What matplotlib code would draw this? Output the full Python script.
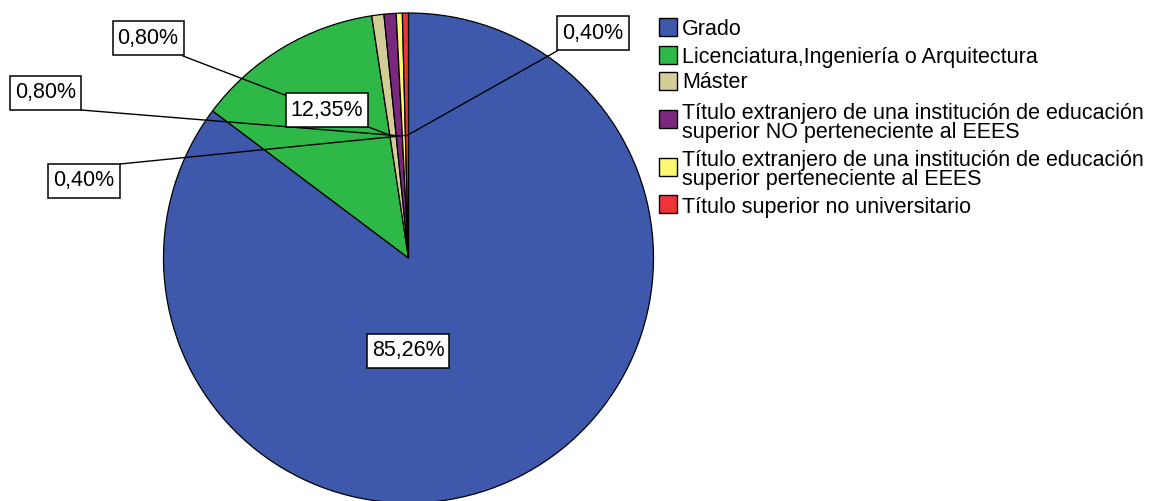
import matplotlib
matplotlib.use("Agg")
import matplotlib.pyplot as plt
from matplotlib.patches import Rectangle
import numpy as np

plt.rcParams['font.family'] = ['Liberation Sans', 'DejaVu Sans']

categories = [
    "Grado",
    "Licenciatura,Ingeniería o Arquitectura",
    "Máster",
    "Título extranjero de una institución de educación\nsuperior NO perteneciente al EEES",
    "Título extranjero de una institución de educación\nsuperior perteneciente al EEES",
    "Título superior no universitario",
]
values = [85.26, 12.35, 0.80, 0.80, 0.40, 0.40]
labels = ["85,26%", "12,35%", "0,80%", "0,80%", "0,40%", "0,40%"]
colors = ["#3E58AC", "#2EB848", "#D3CE97", "#7A287E", "#FBF873", "#EF3338"]

W, H = 1152, 501
fig = plt.figure(figsize=(W / 100, H / 100), dpi=100)
ax = fig.add_axes([0, 0, 1, 1])

def Y(y):
    return H - y

cx, cy, R = 408.5, Y(258), 245
wedges, _ = ax.pie(values, colors=colors, startangle=90, counterclock=False,
                   center=(cx, cy), radius=R, frame=True,
                   wedgeprops=dict(edgecolor='black', linewidth=0.9))
ax.set_xlim(0, W)
ax.set_ylim(0, H)
ax.set_aspect('equal')
ax.axis('off')

FS = 15.5
BOX_H = 34
PADX = 5

# label layout: text center (x, y), leader corner (x, y) or None
layout = [
    ((408, 350.5), None),
    ((327, 110), None),
    ((148, 38), (183, 56)),
    ((45.5, 92.5), (81, 110)),
    ((84, 180.5), (120, 164)),
    ((593, 33), (557, 51)),
]

texts = []
for w, lab, (tpos, corner) in zip(wedges, labels, layout):
    if corner is not None:
        mid = np.deg2rad((w.theta1 + w.theta2) / 2)
        ox = cx + 0.5 * R * np.cos(mid)
        oy = cy + 0.5 * R * np.sin(mid)
        ax.plot([corner[0], ox], [Y(corner[1]), oy], color='black', lw=1.0, zorder=5)
    t = ax.text(tpos[0], Y(tpos[1]), lab, fontsize=FS, ha='center', va='center',
                zorder=12)
    texts.append((t, tpos))

fig.canvas.draw()
r = fig.canvas.get_renderer()
for t, tpos in texts:
    ext = t.get_window_extent(r)
    bw = ext.width + 2 * PADX
    ax.add_patch(Rectangle((tpos[0] - bw / 2, Y(tpos[1]) - BOX_H / 2), bw, BOX_H,
                           facecolor='white', edgecolor='black', linewidth=1.1,
                           zorder=11))

# legend
leg_x = 659
sq = 18
items_y = [(27, 29), (55, 57), (81, 82), (119, 123), (167, 170), (204, 207)]
for (sqc, tc), cat, col in zip(items_y, categories, colors):
    ax.add_patch(Rectangle((leg_x, Y(sqc + sq / 2)), sq, sq, facecolor=col,
                           edgecolor='black', linewidth=1.0, zorder=10))
    ax.text(leg_x + sq + 5, Y(tc), cat, fontsize=FS, ha='left', va='center',
            linespacing=0.85, zorder=10)

fig.savefig("out.png", dpi=100)
